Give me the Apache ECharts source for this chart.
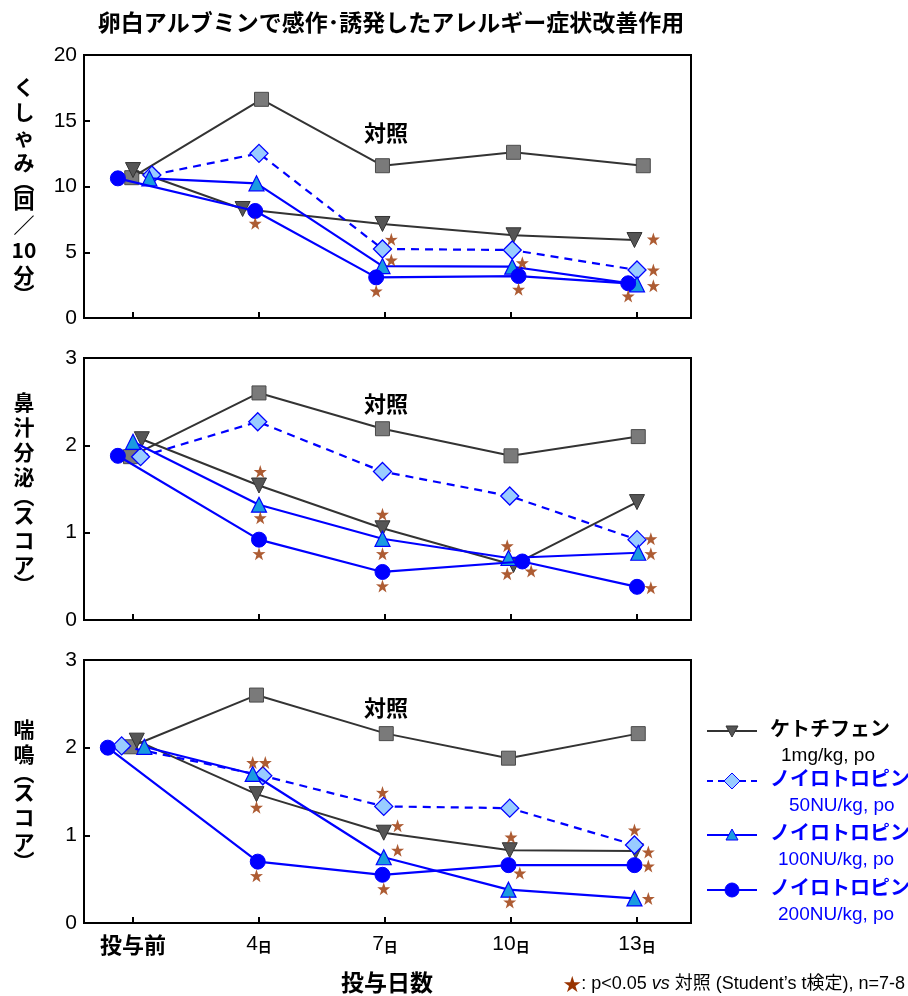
<!DOCTYPE html>
<html>
<head>
<meta charset="utf-8">
<script src="https://cdn.jsdelivr.net/npm/echarts@6/dist/echarts.min.js"></script>
<style>html,body{margin:0;padding:0;background:#fff}#c{width:908px;height:996px}</style>
</head>
<body>
<div id="c"></div>
<script>
// ---------- data ----------
const categories = ['投与前', '4日', '7日', '10日', '13日'];
const titleText = '卵白アルブミンで感作･誘発したアレルギー症状改善作用';
const seriesNames = ['対照', 'ケトチフェン 1mg/kg, po', 'ノイロトロピン 50NU/kg, po', 'ノイロトロピン 100NU/kg, po', 'ノイロトロピン 200NU/kg, po'];
const legendNames = ['ケトチフェン', 'ノイロトロピン', 'ノイロトロピン', 'ノイロトロピン'];
const legendDoses = ['1mg/kg, po', '50NU/kg, po', '100NU/kg, po', '200NU/kg, po'];
const sneezeTicks = [0, 5, 10, 15, 20];
const scoreTicks = [0, 1, 2, 3];

// くしゃみ (回/10分)
const sneezeControl   = [10.67, 16.63, 11.58, 12.6, 11.58];
const sneezeKetotifen = [11.25, 8.29, 7.15, 6.29, 5.93];
const sneezeN50       = [10.87, 12.52, 5.25, 5.17, 3.65];
const sneezeN100      = [10.62, 10.24, 3.95, 3.9, 2.56];
const sneezeN200      = [10.62, 8.14, 3.09, 3.19, 2.64];
const sneezeStarCat   = [1, 2, 2, 2, 3, 3, 4, 4, 4, 4];
const sneezeStarVal   = [7.2, 5.98, 4.41, 2.05, 4.2, 2.18, 6.0, 3.65, 2.46, 1.67];

// 鼻汁分泌 (スコア)
const nasalControl   = [1.87, 2.6, 2.19, 1.88, 2.1];
const nasalKetotifen = [2.07, 1.54, 1.05, 0.63, 1.35];
const nasalN50       = [1.87, 2.27, 1.70, 1.42, 0.92];
const nasalN100      = [2.04, 1.32, 0.93, 0.71, 0.77];
const nasalN200      = [1.88, 0.92, 0.55, 0.67, 0.38];
const nasalStarCat   = [1, 1, 1, 2, 2, 2, 3, 3, 3, 4, 4, 4];
const nasalStarVal   = [1.70, 1.17, 0.76, 1.21, 0.76, 0.39, 0.85, 0.53, 0.56, 0.93, 0.76, 0.37];

// 喘鳴 (スコア)
const wheezeControl   = [2.01, 2.6, 2.16, 1.88, 2.16];
const wheezeKetotifen = [2.08, 1.47, 1.03, 0.83, 0.82];
const wheezeN50       = [2.02, 1.68, 1.33, 1.31, 0.89];
const wheezeN100      = [2.01, 1.70, 0.75, 0.38, 0.28];
const wheezeN200      = [2.0, 0.7, 0.55, 0.66, 0.66];
const wheezeStarCat   = [1, 1, 1, 1, 2, 2, 2, 2, 3, 3, 3, 4, 4, 4, 4];
const wheezeStarVal   = [1.83, 1.83, 1.32, 0.54, 1.49, 1.11, 0.83, 0.39, 0.98, 0.57, 0.24, 1.06, 0.81, 0.65, 0.28];

// ---------- horizontal marker shifts (category units, to avoid overlap) ----------
const sneezeShift = [
  [-0.01, 0.02, -0.02, 0.02, 0.05],
  [0, -0.13, -0.02, 0.02, -0.02],
  [0.15, 0, -0.02, 0.01, 0],
  [0.13, -0.02, -0.02, 0.01, 0],
  [-0.12, -0.03, -0.07, 0.06, -0.07]
];
const sneezeStarShift = [-0.03, 0.05, 0.05, -0.07, 0.09, 0.06, 0.13, 0.13, 0.13, -0.07];
const nasalShift = [
  [-0.02, 0, -0.02, 0, 0.01],
  [0.07, 0, -0.02, 0.02, 0],
  [0.06, -0.01, -0.02, -0.01, 0],
  [0, 0, -0.02, -0.02, 0.01],
  [-0.12, 0, -0.02, 0.09, 0]
];
const nasalStarShift = [0.01, 0.01, 0, -0.02, -0.02, -0.02, -0.03, -0.03, 0.16, 0.11, 0.11, 0.11];
const wheezeShift = [
  [-0.02, -0.02, 0.01, -0.02, 0.01],
  [0.03, -0.02, -0.01, -0.01, -0.01],
  [-0.09, 0.03, -0.01, -0.01, -0.02],
  [0.09, -0.05, -0.01, -0.02, -0.02],
  [-0.2, -0.01, -0.02, -0.02, -0.02]
];
const wheezeStarShift = [-0.05, 0.05, -0.02, -0.02, -0.02, 0.1, 0.1, -0.01, 0, 0.07, -0.01, -0.02, 0.09, 0.09, 0.09];

// ---------- styles ----------
const FONT = '"Liberation Sans", "Noto Sans CJK JP", sans-serif';
const JP = '"Noto Sans CJK JP", "Liberation Sans", sans-serif';
const BLUE = '#0000ff';
const STAR_COLOR = '#993300';
const STAR_PATH = 'path://M50,0 L61.8,35.1 L97.6,34.5 L68.8,56.9 L79.4,91 L50,70 L20.6,91 L31.2,56.9 L2.4,34.5 L38.2,35.1 Z';
const XMIN = -0.3889, XMAX = 4.4286;

const seriesStyles = [
  { symbol: 'rect', symbolSize: 14, symbolRotate: 0, line: { color: '#333333', width: 2 }, item: { color: '#7a7a7a', borderColor: '#4a4a4a', borderWidth: 1 } },
  { symbol: 'triangle', symbolSize: 15, symbolRotate: 180, line: { color: '#333333', width: 2 }, item: { color: '#555555', borderColor: '#333333', borderWidth: 1 } },
  { symbol: 'diamond', symbolSize: 18, symbolRotate: 0, line: { color: BLUE, width: 2.2, type: [8, 6] }, item: { color: '#99ccff', borderColor: BLUE, borderWidth: 1.3 } },
  { symbol: 'triangle', symbolSize: 15, symbolRotate: 0, line: { color: BLUE, width: 2.2 }, item: { color: '#1a9be0', borderColor: BLUE, borderWidth: 1.2 } },
  { symbol: 'circle', symbolSize: 15, symbolRotate: 0, line: { color: BLUE, width: 2.2 }, item: { color: BLUE, borderColor: BLUE, borderWidth: 1 } }
];

const panels = [
  { top: 55, height: 263, max: 20, interval: 5, values: [sneezeControl, sneezeKetotifen, sneezeN50, sneezeN100, sneezeN200], shift: sneezeShift, starCat: sneezeStarCat, starVal: sneezeStarVal, starShift: sneezeStarShift },
  { top: 358, height: 262, max: 3, interval: 1, values: [nasalControl, nasalKetotifen, nasalN50, nasalN100, nasalN200], shift: nasalShift, starCat: nasalStarCat, starVal: nasalStarVal, starShift: nasalStarShift },
  { top: 660, height: 263, max: 3, interval: 1, values: [wheezeControl, wheezeKetotifen, wheezeN50, wheezeN100, wheezeN200], shift: wheezeShift, starCat: wheezeStarCat, starVal: wheezeStarVal, starShift: wheezeStarShift }
];

const grids = [], xAxes = [], yAxes = [], series = [];
panels.forEach((p, pi) => {
  grids.push({ left: 84, width: 607, top: p.top, height: p.height, show: true, borderColor: '#000', borderWidth: 2, backgroundColor: 'transparent' });
  const isLast = pi === panels.length - 1;
  xAxes.push({
    type: 'value', gridIndex: pi, min: XMIN, max: XMAX,
    splitLine: { show: false },
    axisLine: { show: true, onZero: false, lineStyle: { color: '#000', width: 2 } },
    axisTick: { show: true, inside: true, length: 6, customValues: [0, 1, 2, 3, 4], lineStyle: { color: '#000', width: 2 } },
    axisLabel: {
      show: isLast, customValues: [0, 1, 2, 3, 4], margin: 11,
      formatter: v => {
        const c = categories[Math.round(v)];
        if (c === undefined) return '';
        if (c.endsWith('日')) return '{n|' + c.slice(0, -1) + '}{d|日}';
        return '{b|' + c + '}';
      },
      rich: {
        n: { fontFamily: FONT, fontSize: 21, color: '#000' },
        d: { fontFamily: JP, fontSize: 14, color: '#000', fontWeight: 'bold', padding: [4, 0, 0, 0] },
        b: { fontFamily: JP, fontSize: 22, color: '#000', fontWeight: 'bold' }
      }
    }
  });
  yAxes.push({
    type: 'value', gridIndex: pi, min: 0, max: p.max, interval: p.interval,
    splitLine: { show: false },
    axisLine: { show: true, onZero: false, lineStyle: { color: '#000', width: 2 } },
    axisTick: { show: true, inside: true, length: 6, lineStyle: { color: '#000', width: 2 } },
    axisLabel: { fontFamily: FONT, fontSize: 21, color: '#000', margin: 7 }
  });
  p.values.forEach((vals, si) => {
    const st = seriesStyles[si];
    series.push({
      name: seriesNames[si], type: 'line', xAxisIndex: pi, yAxisIndex: pi,
      data: vals.map((v, i) => [i + p.shift[si][i], v]),
      symbol: st.symbol, symbolSize: st.symbolSize, symbolRotate: st.symbolRotate,
      lineStyle: st.line, itemStyle: st.item, showSymbol: true, animation: false, z: 2 + si
    });
  });
  series.push({
    name: '★', type: 'scatter', xAxisIndex: pi, yAxisIndex: pi,
    data: p.starVal.map((v, i) => [p.starCat[i] + p.starShift[i], v]),
    symbol: STAR_PATH, symbolSize: 13, itemStyle: { color: STAR_COLOR }, animation: false, z: 10
  });
});

// ---------- texts ----------
function vertical(chars) {
  return chars.map(c => (c === '︵' || c === '︶') ? '{p|' + c + '}' : '{c|' + c + '}').join('\n');
}
const vRich = {
  c: { fontFamily: JP, fontSize: 21, fontWeight: 'bold', lineHeight: 25, color: '#000', align: 'center' },
  p: { fontFamily: JP, fontSize: 21, fontWeight: 'bold', lineHeight: 13, color: '#000', align: 'center' }
};
const yNames = [
  { chars: ['く', 'し', 'ゃ', 'み', '︵', '回', '／', '10', '分', '︶'], y: 188 },
  { chars: ['鼻', '汁', '分', '泌', '︵', 'ス', 'コ', 'ア', '︶'], y: 490 },
  { chars: ['喘', '鳴', '︵', 'ス', 'コ', 'ア', '︶'], y: 792 }
];
const controlLabelY = [133, 404, 708];

const graphic = [];
graphic.push({ type: 'text', x: 391, y: 22, style: { text: titleText, fontFamily: JP, fontSize: 23, fontWeight: 'bold', fill: '#000', align: 'center', verticalAlign: 'middle' } });
yNames.forEach(n => graphic.push({ type: 'text', x: 24, y: n.y, style: { text: vertical(n.chars), rich: vRich, align: 'center', verticalAlign: 'middle' } }));
controlLabelY.forEach(y => graphic.push({ type: 'text', x: 386, y: y, style: { text: seriesNames[0], fontFamily: JP, fontSize: 22, fontWeight: 'bold', fill: '#000', align: 'center', verticalAlign: 'middle' } }));
graphic.push({ type: 'text', x: 387, y: 982, style: { text: '投与日数', fontFamily: JP, fontSize: 23, fontWeight: 'bold', fill: '#000', align: 'center', verticalAlign: 'middle' } });
graphic.push({
  type: 'text', x: 905, y: 984,
  style: {
    text: '{s|★}{t|: p<0.05 }{i|vs}{t| 対照 (Student’s t検定), n=7-8}',
    align: 'right', verticalAlign: 'middle',
    rich: {
      s: { fontFamily: JP, fontSize: 18, fill: STAR_COLOR, color: STAR_COLOR },
      t: { fontFamily: FONT, fontSize: 18, color: '#000' },
      i: { fontFamily: FONT, fontSize: 18, fontStyle: 'italic', color: '#000' }
    }
  }
});

// legend (drawn)
const legendRowY = [731, 781, 835, 890];
const legendDoseX = [781, 789, 778, 778];
legendRowY.forEach((y, k) => {
  const st = seriesStyles[k + 1];
  const col = k === 0 ? '#000' : BLUE;
  graphic.push({ type: 'line', shape: { x1: 707, y1: y, x2: 757, y2: y }, style: { stroke: st.line.color, lineWidth: st.line.width, lineDash: Array.isArray(st.line.type) ? [6, 5] : null } });
  let shape;
  if (k === 0) shape = { type: 'polygon', shape: { points: [[726, y - 5], [738, y - 5], [732, y + 6]] } };
  else if (k === 1) shape = { type: 'polygon', shape: { points: [[732, y - 8], [740, y], [732, y + 8], [724, y]] } };
  else if (k === 2) shape = { type: 'polygon', shape: { points: [[732, y - 6], [738, y + 5], [726, y + 5]] } };
  else shape = { type: 'circle', shape: { cx: 732, cy: y, r: 7 } };
  shape.style = { fill: st.item.color, stroke: st.item.borderColor, lineWidth: 1 };
  graphic.push(shape);
  graphic.push({ type: 'text', x: 770, y: y - 3, style: { text: legendNames[k], fontFamily: JP, fontSize: 20, fontWeight: 'bold', fill: col, verticalAlign: 'middle' } });
  graphic.push({ type: 'text', x: legendDoseX[k], y: y + 25, style: { text: legendDoses[k], fontFamily: FONT, fontSize: 19, fill: col, verticalAlign: 'middle' } });
});

const chart = echarts.init(document.getElementById('c'), null, { renderer: 'canvas' });
chart.setOption({
  animation: false,
  backgroundColor: '#fff',
  grid: grids, xAxis: xAxes, yAxis: yAxes, series: series, graphic: graphic
});
</script>
</body>
</html>
